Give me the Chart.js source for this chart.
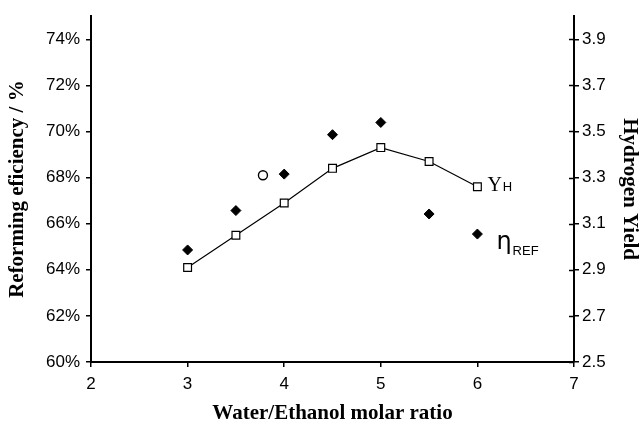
<!DOCTYPE html>
<html>
<head>
<meta charset="utf-8">
<script src="https://cdn.jsdelivr.net/npm/chart.js@4/dist/chart.umd.min.js"></script>
<style>
  html, body { margin: 0; padding: 0; background: #fff; }
  #wrap { width: 641px; height: 424px; }
</style>
</head>
<body>
<div id="wrap"><canvas id="chart" width="641" height="424"></canvas></div>
<script>
// --- data ---
const ratios = [3, 3.5, 4, 4.5, 5, 5.5, 6];
const efficiency = [64.86, 66.57, 68.15, 69.86, 70.39, 66.42, 65.55];   // eta_REF, %
const hydrogenYield = [2.91, 3.05, 3.19, 3.34, 3.43, 3.37, 3.26];        // Y_H
const extraPoint = [{ x: 3.78, y: 68.1 }];                               // open circle
const xTicks = [2, 3, 4, 5, 6, 7];
const leftTicks = [60, 62, 64, 66, 68, 70, 72, 74];
const rightTicks = [2.5, 2.7, 2.9, 3.1, 3.3, 3.5, 3.7, 3.9];

const tickFont = { family: "'Liberation Sans', Arial, sans-serif", size: 17 };
const titleFont = { family: "'Liberation Serif', 'Times New Roman', serif", size: 21, weight: 'bold', lineHeight: 1 };

// inner half of the right axis ticks (they cross the axis line)
const crossTicks = {
    id: 'crossTicks',
    afterDraw(chart) {
        const s = chart.scales.yRight;
        const c = chart.ctx;
        c.save();
        c.strokeStyle = '#000';
        c.lineWidth = 1.5;
        s.ticks.forEach(t => {
            const y = Math.round(s.getPixelForValue(t.value)) + 0.5;
            c.beginPath();
            c.moveTo(s.left - 5, y);
            c.lineTo(s.left, y);
            c.stroke();
        });
        c.restore();
    }
};

// series labels next to the last point of each series
const seriesLabels = {
    id: 'seriesLabels',
    afterDatasetsDraw(chart) {
        const c = chart.ctx;
        const yh = chart.getDatasetMeta(1).data[ratios.length - 1];
        const eta = chart.getDatasetMeta(0).data[ratios.length - 1];
        c.save();
        c.fillStyle = '#000';
        c.textBaseline = 'alphabetic';
        c.textAlign = 'left';
        // Y_H
        c.font = "20px 'Liberation Serif', serif";
        c.fillText('Y', yh.x + 10, yh.y + 4);
        let w = c.measureText('Y').width;
        c.font = "13px 'Liberation Sans', sans-serif";
        c.fillText('H', yh.x + 10 + w + 1, yh.y + 4);
        // eta_REF
        c.font = "24px 'DejaVu Sans', sans-serif";
        c.fillText('η', eta.x + 19, eta.y + 15);
        w = c.measureText('η').width;
        c.font = "13px 'Liberation Sans', sans-serif";
        c.fillText('REF', eta.x + 19 + w + 1, eta.y + 21);
        c.restore();
    }
};

const ctx = document.getElementById('chart').getContext('2d');
new Chart(ctx, {
    type: 'scatter',
    data: {
        datasets: [
            {
                label: 'ηREF',
                data: ratios.map((x, i) => ({ x, y: efficiency[i] })),
                yAxisID: 'yLeft',
                pointStyle: 'rectRot',
                pointRadius: 5,
                backgroundColor: '#000',
                borderColor: '#000',
                borderWidth: 1,
                showLine: false
            },
            {
                label: 'YH',
                data: ratios.map((x, i) => ({ x, y: hydrogenYield[i] })),
                yAxisID: 'yRight',
                pointStyle: 'rect',
                pointRadius: 5.5,
                backgroundColor: '#fff',
                borderColor: '#000',
                borderWidth: 1.2,
                showLine: true,
                tension: 0
            },
            {
                label: 'extra',
                data: extraPoint,
                yAxisID: 'yLeft',
                pointStyle: 'circle',
                pointRadius: 4.5,
                backgroundColor: '#fff',
                borderColor: '#000',
                borderWidth: 1.4,
                showLine: false
            }
        ]
    },
    options: {
        responsive: false,
        animation: false,
        layout: { padding: { top: 13, left: 0, right: 0, bottom: 0 } },
        plugins: {
            legend: { display: false },
            tooltip: { enabled: false }
        },
        scales: {
            x: {
                type: 'linear',
                min: 2,
                max: 7,
                afterBuildTicks: s => { s.ticks = xTicks.map(v => ({ value: v })); },
                afterFit: s => { s.height = 62; },
                border: { color: '#000', width: 2 },
                grid: { drawOnChartArea: false, tickLength: 5, color: '#000', lineWidth: 1.5 },
                ticks: { color: '#000', font: tickFont, padding: 7, maxRotation: 0 },
                title: {
                    display: true,
                    text: 'Water/Ethanol molar ratio',
                    color: '#000',
                    font: titleFont,
                    padding: 0
                }
            },
            yLeft: {
                type: 'linear',
                position: 'left',
                min: 60,
                max: 75,
                afterBuildTicks: s => { s.ticks = leftTicks.map(v => ({ value: v })); },
                afterFit: s => { s.width = 91; },
                border: { color: '#000', width: 2 },
                grid: { drawOnChartArea: false, tickLength: 5, color: '#000', lineWidth: 1.5 },
                ticks: { color: '#000', font: tickFont, padding: 6, callback: v => v + '%' },
                title: {
                    display: true,
                    text: 'Reforming eficiency / %',
                    color: '#000',
                    font: titleFont,
                    padding: { top: 7, bottom: 0 }
                }
            },
            yRight: {
                type: 'linear',
                position: 'right',
                min: 2.5,
                max: 4.0,
                afterBuildTicks: s => { s.ticks = rightTicks.map(v => ({ value: v })); },
                afterFit: s => { s.width = 67; },
                border: { color: '#000', width: 2 },
                grid: { drawOnChartArea: false, tickLength: 5, color: '#000', lineWidth: 1.5 },
                ticks: { color: '#000', font: tickFont, padding: 3, callback: v => v.toFixed(1) },
                title: {
                    display: true,
                    text: 'Hydrogen Yield',
                    color: '#000',
                    font: titleFont,
                    padding: { top: 1.5, bottom: 0 }
                }
            }
        }
    },
    plugins: [crossTicks, seriesLabels]
});
</script>
</body>
</html>
